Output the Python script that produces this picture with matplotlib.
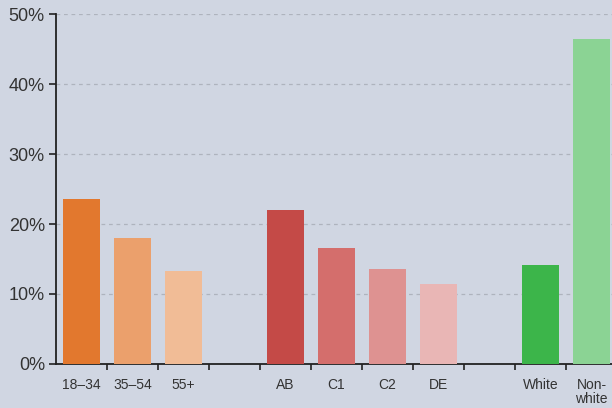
import numpy as np
import matplotlib
matplotlib.use('Agg')
from matplotlib import pyplot as plt

labels = ['18–34', '35–54', '55+', '', 'AB', 'C1', 'C2', 'DE', '', 'White', 'Non-\nwhite']
values = [23.6, 18.0, 13.3, 0, 22.0, 16.6, 13.6, 11.4, 0, 14.1, 46.4]
colors = ['#E2782E', '#EBA06C', '#F1BC96', 'none', '#C44A47', '#D46E6C', '#DE9291', '#E9B6B5', 'none', '#3CB54A', '#8BD394']
yticks = [0, 10, 20, 30, 40, 50]

bg = '#D0D6E2'
plt.rcParams['font.family'] = ['Liberation Sans', 'DejaVu Sans']

fig = plt.figure(figsize=(6.12, 4.08), dpi=100, facecolor=bg)
ax = fig.add_axes([56/612, 44/408, 561/612, 350/408], facecolor=bg)

x = np.arange(len(values))
ax.bar(x, values, width=0.72, color=colors, zorder=3)

ax.set_xlim(-0.5, len(values) - 0.5)
ax.set_ylim(0, 50)
ax.set_yticks(yticks)
ax.set_yticklabels([f'{v}%' for v in yticks], fontsize=13, color='#333333')
# dashed grid lines (none at 0)
for v in yticks[1:]:
    ax.axhline(v, color='#AEB3BD', lw=0.9, ls=(0, (3, 3)), zorder=1)

ax.set_xticks(x)
ax.set_xticklabels(labels, fontsize=10, color='#333333', linespacing=1.0)
ax.tick_params(axis='x', which='major', length=0, pad=10)
# tick marks sit between the categories
ax.set_xticks(np.arange(len(values)) + 0.5, minor=True)
ax.tick_params(axis='x', which='minor', length=4, width=1.2, color='#222222')
ax.tick_params(axis='y', length=5, width=1.2, color='#222222', pad=3)

for s in ['top', 'right']:
    ax.spines[s].set_visible(False)
ax.spines['left'].set_linewidth(1.3)
ax.spines['bottom'].set_linewidth(1.3)
ax.spines['left'].set_color('#222222')
ax.spines['bottom'].set_color('#222222')

fig.savefig('out.png', dpi=100, facecolor=bg)
